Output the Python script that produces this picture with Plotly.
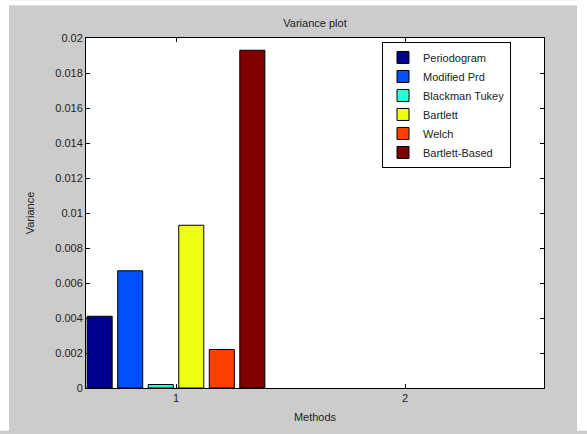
import plotly.graph_objects as go

groups = [1, 2]
methods = ["Periodogram", "Modified Prd", "Blackman Tukey", "Bartlett", "Welch", "Bartlett-Based"]
values_group1 = [0.0041, 0.0067, 0.0002, 0.0093, 0.0022, 0.0193]
values_group2 = [0, 0, 0, 0, 0, 0]
colors = ["#00008f", "#0050ff", "#2affd5", "#efff10", "#ff4000", "#800000"]
ytick_vals = [0, 0.002, 0.004, 0.006, 0.008, 0.01, 0.012, 0.014, 0.016, 0.018, 0.02]
ytick_text = ["0", "0.002", "0.004", "0.006", "0.008", "0.01", "0.012", "0.014", "0.016", "0.018", "0.02"]

W, H = 587, 434
L, R, T, B = 86, 43, 38, 43
pw, ph = W - L - R, H - T - B

fig = go.Figure()
for name, v1, v2, c in zip(methods, values_group1, values_group2, colors):
    vals = [v1, v2]
    fig.add_trace(go.Bar(
        x=groups, y=vals, name=name,
        marker=dict(color=c, line=dict(color="#000000", width=[1 if v > 0 else 0 for v in vals])),
    ))

font = dict(family="Liberation Sans, Arial, sans-serif", size=11, color="#222222")

def px_x(p):
    return (p - L) / pw

def px_y(p):
    return (H - B - p) / ph

shapes = [
    dict(type="rect", xref="paper", yref="paper", x0=px_x(0), x1=px_x(W), y0=px_y(5), y1=px_y(0),
         fillcolor="white", line=dict(width=0), layer="above"),
    dict(type="rect", xref="paper", yref="paper", x0=px_x(0), x1=px_x(9), y0=px_y(H), y1=px_y(0),
         fillcolor="white", line=dict(width=0), layer="above"),
    dict(type="rect", xref="paper", yref="paper", x0=px_x(577), x1=px_x(W), y0=px_y(H), y1=px_y(0),
         fillcolor="white", line=dict(width=0), layer="above"),
]

fig.update_layout(
    width=W, height=H,
    margin=dict(l=L, r=R, t=T, b=B, pad=0),
    paper_bgcolor="#cccccc",
    plot_bgcolor="white",
    font=font,
    barmode="group",
    bargap=0.2,
    bargroupgap=0.18,
    title=dict(text="Variance plot", x=315 / W, xanchor="center",
               y=1 - 23 / H, yanchor="middle", font=dict(size=11)),
    legend=dict(x=px_x(382), y=px_y(42), xanchor="left", yanchor="top",
                bgcolor="white", bordercolor="#000000", borderwidth=1,
                font=dict(size=11), tracegroupgap=0, itemwidth=30),
    shapes=shapes,
    xaxis=dict(range=[0.607, 2.607], tickvals=groups, ticktext=["1", "2"],
               showline=True, linecolor="#000000", linewidth=1, mirror="ticks",
               ticks="inside", ticklen=4, tickcolor="#000000", showgrid=False, zeroline=False,
               tickfont=dict(size=11),
               title=dict(text="Methods", standoff=10, font=dict(size=11))),
    yaxis=dict(range=[0, 0.02], tickvals=ytick_vals, ticktext=ytick_text,
               showline=True, linecolor="#000000", linewidth=1, mirror="ticks",
               ticks="inside", ticklen=4, tickcolor="#000000", showgrid=False, zeroline=False,
               tickfont=dict(size=11),
               title=dict(text="Variance", standoff=18, font=dict(size=11))),
)

fig.write_html("out.html")
